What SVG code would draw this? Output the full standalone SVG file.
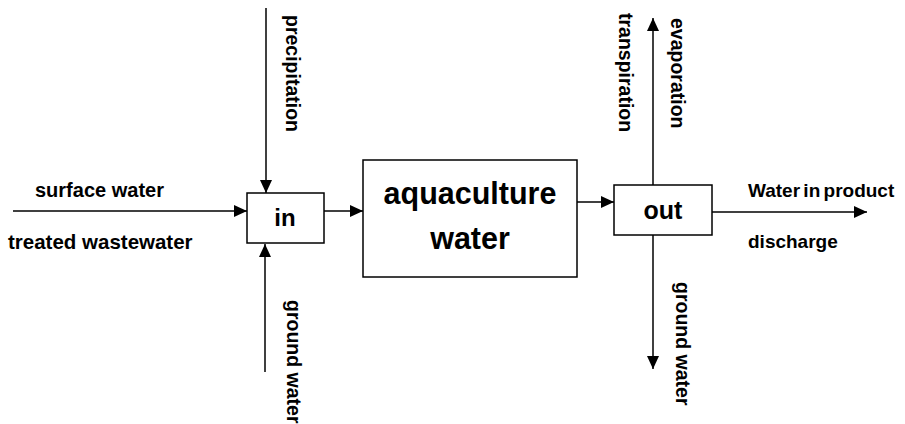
<svg xmlns="http://www.w3.org/2000/svg" width="905" height="424" viewBox="0 0 905 424">
  <style>
    text { font-family: "Liberation Sans", Arial, sans-serif; font-weight: bold; fill: #000; }
    .lbl { font-size: 19px; }
    .vlbl { font-size: 19.5px; }
    .box { fill: #fff; stroke: #000; stroke-width: 1.5; }
    .flow { stroke: #000; stroke-width: 1.5; fill: none; marker-end: url(#arrow); }
  </style>
  <defs>
    <marker id="arrow" markerUnits="userSpaceOnUse" markerWidth="13" markerHeight="12" viewBox="0 0 13 12" refX="13" refY="6" orient="auto">
      <path d="M0,0 L13,6 L0,12 Z" fill="#000"/>
    </marker>
  </defs>

  <!-- flows between sources, boxes and sinks -->
  <g id="connectors">
    <line class="flow" x1="13" y1="211" x2="247" y2="211"/>
    <line class="flow" x1="266" y1="8" x2="266" y2="193"/>
    <line class="flow" x1="265" y1="372" x2="265" y2="244"/>
    <line class="flow" x1="324" y1="211" x2="363" y2="211"/>
    <line class="flow" x1="575" y1="202" x2="614" y2="202"/>
    <line class="flow" x1="653" y1="185" x2="653" y2="18"/>
    <line class="flow" x1="653" y1="235" x2="653" y2="369"/>
    <line class="flow" x1="712" y1="212" x2="867" y2="212"/>
  </g>

  <g id="node-in">
    <rect class="box" x="247" y="193" width="77" height="50"/>
    <text x="285" y="226" text-anchor="middle" font-size="24">in</text>
  </g>

  <g id="node-aquaculture">
    <rect class="box" x="363" y="160" width="214" height="117"/>
    <text x="470" y="204" text-anchor="middle" font-size="30.5">aquaculture</text>
    <text x="470" y="249" text-anchor="middle" font-size="30.5">water</text>
  </g>

  <g id="node-out">
    <rect class="box" x="614" y="185" width="98" height="50"/>
    <text x="663" y="219" text-anchor="middle" font-size="25">out</text>
  </g>

  <!-- flow labels -->
  <g id="labels">
    <text class="lbl" x="35" y="197" style="font-size:20px">surface water</text>
    <text class="lbl" x="8" y="249" style="font-size:20.5px">treated wastewater</text>
    <text class="lbl" x="748" y="197" word-spacing="-2">Water in product</text>
    <text class="lbl" x="748" y="248">discharge</text>
    <text class="vlbl" transform="translate(286,15) rotate(90)">precipitation</text>
    <text class="vlbl" transform="translate(287,300) rotate(90)">ground water</text>
    <text class="vlbl" transform="translate(619,13) rotate(90)">transpiration</text>
    <text class="vlbl" transform="translate(671,18) rotate(90)">evaporation</text>
    <text class="vlbl" transform="translate(676,282) rotate(90)">ground water</text>
  </g>
</svg>
